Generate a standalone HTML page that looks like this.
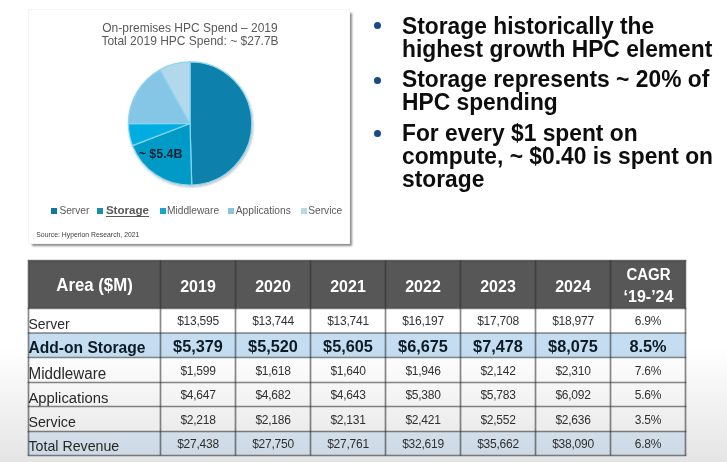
<!DOCTYPE html>
<html><head><meta charset="utf-8"><style>
html,body{margin:0;padding:0;background:#fff;}
body{width:727px;height:462px;overflow:hidden;position:relative;font-family:"Liberation Sans",sans-serif;}
#w{will-change:transform;position:absolute;left:0;top:0;width:727px;height:462px;background:#fff;}
.t{position:absolute;white-space:nowrap;}
#ov{position:absolute;left:0;top:0;width:727px;height:462px;background:linear-gradient(180deg,rgba(0,0,0,0) 0px,rgba(0,0,0,0) 348px,rgba(0,0,0,0.105) 462px);}
</style></head><body><div id="w">
<div style="position:absolute;left:29px;top:10px;width:320px;height:233px;background:#fff;box-shadow:0 0 0 1px #f5f5f5, 2.5px 2.5px 2px rgba(0,0,0,0.45);"></div>
<div class="t" style="left:-10.00px;width:400px;text-align:center;top:22.14px;font-size:12px;line-height:13.41px;font-weight:400;color:#595959;transform:scaleY(1.05);transform-origin:0 10.86px;">On-premises HPC Spend – 2019</div>
<div class="t" style="left:-10.00px;width:400px;text-align:center;top:35.24px;font-size:12px;line-height:13.41px;font-weight:400;color:#595959;transform:scaleY(1.05);transform-origin:0 10.86px;">Total 2019 HPC Spend: ~ $27.7B</div>
<svg style="position:absolute;left:0;top:0" width="727" height="462"><defs><filter id="ds" x="-20%" y="-20%" width="140%" height="140%"><feDropShadow dx="0.8" dy="1.3" stdDeviation="1" flood-color="#000" flood-opacity="0.28"/></filter></defs><g filter="url(#ds)"><path d="M190,123.5 L190.00,61.90 A61.6,61.6 0 0 1 191.75,185.08 Z" fill="#0881ab" stroke="#8ad5ef" stroke-width="1.2"/><path d="M190,123.5 L191.75,185.08 A61.6,61.6 0 0 1 132.51,145.63 Z" fill="#039ac7" stroke="#8ad5ef" stroke-width="1.2"/><path d="M190,123.5 L132.51,145.63 A61.6,61.6 0 0 1 128.40,123.58 Z" fill="#02ade0" stroke="#8ad5ef" stroke-width="1.2"/><path d="M190,123.5 L128.40,123.58 A61.6,61.6 0 0 1 160.04,69.68 Z" fill="#85c5e5" stroke="#8ad5ef" stroke-width="1.2"/><path d="M190,123.5 L160.04,69.68 A61.6,61.6 0 0 1 190.00,61.90 Z" fill="#b4d8eb" stroke="#8ad5ef" stroke-width="1.2"/></g></svg>
<div class="t" style="left:138.70px;top:147.87px;font-size:12.4px;line-height:13.85px;font-weight:700;color:#0b2233;transform:scaleY(1.05);transform-origin:0 11.23px;">~ $5.4B</div>
<div style="position:absolute;left:50.5px;top:207.8px;width:6px;height:6px;background:#10789b;"></div>
<div class="t" style="left:59.40px;top:204.97px;font-size:10.2px;line-height:11.40px;font-weight:400;color:#595959;">Server</div>
<div style="position:absolute;left:97.2px;top:207.8px;width:6px;height:6px;background:#1a8db0;"></div>
<div style="position:absolute;left:159.6px;top:207.8px;width:6px;height:6px;background:#1aa3cf;"></div>
<div class="t" style="left:167.00px;top:204.97px;font-size:10.2px;line-height:11.40px;font-weight:400;color:#595959;">Middleware</div>
<div style="position:absolute;left:227.9px;top:207.8px;width:6px;height:6px;background:#8cc3dd;"></div>
<div class="t" style="left:235.80px;top:204.97px;font-size:10.2px;line-height:11.40px;font-weight:400;color:#595959;">Applications</div>
<div style="position:absolute;left:300.8px;top:207.8px;width:6px;height:6px;background:#b9d8e8;"></div>
<div class="t" style="left:308.20px;top:204.97px;font-size:10.2px;line-height:11.40px;font-weight:400;color:#595959;">Service</div>
<div class="t" style="left:105.90px;top:203.70px;font-size:11.6px;line-height:12.96px;font-weight:700;color:#595959;text-decoration:underline;text-underline-offset:1.5px;text-decoration-skip-ink:none;">Storage</div>
<div class="t" style="left:36.30px;top:230.80px;font-size:6.85px;line-height:7.65px;font-weight:400;color:#404040;">Source: Hyperion Research, 2021</div>
<div style="position:absolute;left:374.3px;top:22.00px;width:6.8px;height:7px;border-radius:50%;background:#184a84"></div>
<div class="t" style="left:402.00px;top:13.76px;font-size:22.8px;line-height:25.47px;font-weight:700;color:#0d0d0d;transform:scaleY(1.07);transform-origin:0 20.64px;">Storage historically the</div>
<div class="t" style="left:402.00px;top:36.76px;font-size:22.8px;line-height:25.47px;font-weight:700;color:#0d0d0d;transform:scaleY(1.07);transform-origin:0 20.64px;">highest growth HPC element</div>
<div style="position:absolute;left:374.3px;top:76.50px;width:6.8px;height:7px;border-radius:50%;background:#184a84"></div>
<div class="t" style="left:402.00px;top:67.36px;font-size:22.8px;line-height:25.47px;font-weight:700;color:#0d0d0d;transform:scaleY(1.07);transform-origin:0 20.64px;">Storage represents ~ 20% of</div>
<div class="t" style="left:402.00px;top:90.16px;font-size:22.8px;line-height:25.47px;font-weight:700;color:#0d0d0d;transform:scaleY(1.07);transform-origin:0 20.64px;">HPC spending</div>
<div style="position:absolute;left:374.3px;top:129.50px;width:6.8px;height:7px;border-radius:50%;background:#184a84"></div>
<div class="t" style="left:402.00px;top:120.96px;font-size:22.8px;line-height:25.47px;font-weight:700;color:#0d0d0d;transform:scaleY(1.07);transform-origin:0 20.64px;">For every $1 spent on</div>
<div class="t" style="left:402.00px;top:143.76px;font-size:22.8px;line-height:25.47px;font-weight:700;color:#0d0d0d;transform:scaleY(1.07);transform-origin:0 20.64px;">compute, ~ $0.40 is spent on</div>
<div class="t" style="left:402.00px;top:166.56px;font-size:22.8px;line-height:25.47px;font-weight:700;color:#0d0d0d;transform:scaleY(1.07);transform-origin:0 20.64px;">storage</div>
<svg style="position:absolute;left:0;top:0" width="727" height="462"><rect x="28.5" y="260.5" width="657.0" height="48.0" fill="#575757"/><rect x="28.5" y="308.5" width="657.0" height="24.5" fill="#ffffff"/><rect x="28.5" y="333" width="657.0" height="24.5" fill="#c4ddf1"/><rect x="28.5" y="357.5" width="657.0" height="25.0" fill="#ffffff"/><rect x="28.5" y="382.5" width="657.0" height="24.0" fill="#ffffff"/><rect x="28.5" y="406.5" width="657.0" height="25.0" fill="#ffffff"/><rect x="28.5" y="431.5" width="657.0" height="24.0" fill="#e4f2fe"/><line x1="27.65" y1="260.5" x2="686.35" y2="260.5" stroke="rgb(45,45,45)" stroke-opacity="0.56" stroke-width="1.7"/><line x1="27.65" y1="308.5" x2="686.35" y2="308.5" stroke="rgb(45,45,45)" stroke-opacity="0.56" stroke-width="1.7"/><line x1="27.65" y1="333" x2="686.35" y2="333" stroke="rgb(45,45,45)" stroke-opacity="0.56" stroke-width="1.7"/><line x1="27.65" y1="357.5" x2="686.35" y2="357.5" stroke="rgb(45,45,45)" stroke-opacity="0.56" stroke-width="1.7"/><line x1="27.65" y1="382.5" x2="686.35" y2="382.5" stroke="rgb(45,45,45)" stroke-opacity="0.56" stroke-width="1.7"/><line x1="27.65" y1="406.5" x2="686.35" y2="406.5" stroke="rgb(45,45,45)" stroke-opacity="0.56" stroke-width="1.7"/><line x1="27.65" y1="431.5" x2="686.35" y2="431.5" stroke="rgb(45,45,45)" stroke-opacity="0.56" stroke-width="1.7"/><line x1="27.65" y1="455.5" x2="686.35" y2="455.5" stroke="rgb(45,45,45)" stroke-opacity="0.56" stroke-width="1.7"/><line x1="28.5" y1="260.5" x2="28.5" y2="455.5" stroke="rgb(45,45,45)" stroke-opacity="0.56" stroke-width="1.7"/><line x1="160.5" y1="260.5" x2="160.5" y2="455.5" stroke="rgb(45,45,45)" stroke-opacity="0.56" stroke-width="1.7"/><line x1="235.5" y1="260.5" x2="235.5" y2="455.5" stroke="rgb(45,45,45)" stroke-opacity="0.56" stroke-width="1.7"/><line x1="310.5" y1="260.5" x2="310.5" y2="455.5" stroke="rgb(45,45,45)" stroke-opacity="0.56" stroke-width="1.7"/><line x1="385.5" y1="260.5" x2="385.5" y2="455.5" stroke="rgb(45,45,45)" stroke-opacity="0.56" stroke-width="1.7"/><line x1="460.5" y1="260.5" x2="460.5" y2="455.5" stroke="rgb(45,45,45)" stroke-opacity="0.56" stroke-width="1.7"/><line x1="535.5" y1="260.5" x2="535.5" y2="455.5" stroke="rgb(45,45,45)" stroke-opacity="0.56" stroke-width="1.7"/><line x1="610.5" y1="260.5" x2="610.5" y2="455.5" stroke="rgb(45,45,45)" stroke-opacity="0.56" stroke-width="1.7"/><line x1="685.5" y1="260.5" x2="685.5" y2="455.5" stroke="rgb(45,45,45)" stroke-opacity="0.56" stroke-width="1.7"/></svg>
<div class="t" style="left:-105.50px;width:400px;text-align:center;top:277.39px;font-size:16.8px;line-height:18.77px;font-weight:700;color:#fff;transform:scaleY(1.06);transform-origin:0 15.21px;">Area ($M)</div>
<div class="t" style="left:-2.00px;width:400px;text-align:center;top:278.32px;font-size:16px;line-height:17.88px;font-weight:700;color:#fff;transform:scaleY(1.08);transform-origin:0 14.48px;">2019</div>
<div class="t" style="left:73.00px;width:400px;text-align:center;top:278.32px;font-size:16px;line-height:17.88px;font-weight:700;color:#fff;transform:scaleY(1.08);transform-origin:0 14.48px;">2020</div>
<div class="t" style="left:148.00px;width:400px;text-align:center;top:278.32px;font-size:16px;line-height:17.88px;font-weight:700;color:#fff;transform:scaleY(1.08);transform-origin:0 14.48px;">2021</div>
<div class="t" style="left:223.00px;width:400px;text-align:center;top:278.32px;font-size:16px;line-height:17.88px;font-weight:700;color:#fff;transform:scaleY(1.08);transform-origin:0 14.48px;">2022</div>
<div class="t" style="left:298.00px;width:400px;text-align:center;top:278.32px;font-size:16px;line-height:17.88px;font-weight:700;color:#fff;transform:scaleY(1.08);transform-origin:0 14.48px;">2023</div>
<div class="t" style="left:373.00px;width:400px;text-align:center;top:278.32px;font-size:16px;line-height:17.88px;font-weight:700;color:#fff;transform:scaleY(1.08);transform-origin:0 14.48px;">2024</div>
<div class="t" style="left:448.50px;width:400px;text-align:center;top:266.82px;font-size:15px;line-height:16.76px;font-weight:700;color:#fff;transform:scaleY(1.09);transform-origin:0 13.58px;">CAGR</div>
<div class="t" style="left:448.50px;width:400px;text-align:center;top:287.72px;font-size:16px;line-height:17.88px;font-weight:700;color:#fff;transform:scaleY(1.05);transform-origin:0 14.48px;">‘19-’24</div>
<div class="t" style="left:28.50px;top:317.03px;font-size:14.0px;line-height:15.64px;font-weight:400;color:#2b2b2b;transform:scaleY(1.04);transform-origin:0 12.67px;">Server</div>
<div class="t" style="left:-2.00px;width:400px;text-align:center;top:315.39px;font-size:12px;line-height:13.41px;font-weight:400;color:#333;letter-spacing:-0.25px;">$13,595</div>
<div class="t" style="left:73.00px;width:400px;text-align:center;top:315.39px;font-size:12px;line-height:13.41px;font-weight:400;color:#333;letter-spacing:-0.25px;">$13,744</div>
<div class="t" style="left:148.00px;width:400px;text-align:center;top:315.39px;font-size:12px;line-height:13.41px;font-weight:400;color:#333;letter-spacing:-0.25px;">$13,741</div>
<div class="t" style="left:223.00px;width:400px;text-align:center;top:315.39px;font-size:12px;line-height:13.41px;font-weight:400;color:#333;letter-spacing:-0.25px;">$16,197</div>
<div class="t" style="left:298.00px;width:400px;text-align:center;top:315.39px;font-size:12px;line-height:13.41px;font-weight:400;color:#333;letter-spacing:-0.25px;">$17,708</div>
<div class="t" style="left:373.00px;width:400px;text-align:center;top:315.39px;font-size:12px;line-height:13.41px;font-weight:400;color:#333;letter-spacing:-0.25px;">$18,977</div>
<div class="t" style="left:448.00px;width:400px;text-align:center;top:315.39px;font-size:12px;line-height:13.41px;font-weight:400;color:#333;letter-spacing:-0.25px;">6.9%</div>
<div class="t" style="left:28.50px;top:339.18px;font-size:15.6px;line-height:17.43px;font-weight:700;color:#0d1b26;">Add-on Storage</div>
<div class="t" style="left:-2.00px;width:400px;text-align:center;top:336.99px;font-size:16.3px;line-height:18.21px;font-weight:700;color:#0d1b26;">$5,379</div>
<div class="t" style="left:73.00px;width:400px;text-align:center;top:336.99px;font-size:16.3px;line-height:18.21px;font-weight:700;color:#0d1b26;">$5,520</div>
<div class="t" style="left:148.00px;width:400px;text-align:center;top:336.99px;font-size:16.3px;line-height:18.21px;font-weight:700;color:#0d1b26;">$5,605</div>
<div class="t" style="left:223.00px;width:400px;text-align:center;top:336.99px;font-size:16.3px;line-height:18.21px;font-weight:700;color:#0d1b26;">$6,675</div>
<div class="t" style="left:298.00px;width:400px;text-align:center;top:336.99px;font-size:16.3px;line-height:18.21px;font-weight:700;color:#0d1b26;">$7,478</div>
<div class="t" style="left:373.00px;width:400px;text-align:center;top:336.99px;font-size:16.3px;line-height:18.21px;font-weight:700;color:#0d1b26;">$8,075</div>
<div class="t" style="left:448.00px;width:400px;text-align:center;top:336.99px;font-size:16.3px;line-height:18.21px;font-weight:700;color:#0d1b26;">8.5%</div>
<div class="t" style="left:28.50px;top:365.44px;font-size:15.2px;line-height:16.98px;font-weight:400;color:#2b2b2b;transform:scaleY(1.04);transform-origin:0 13.76px;">Middleware</div>
<div class="t" style="left:-2.00px;width:400px;text-align:center;top:364.64px;font-size:12px;line-height:13.41px;font-weight:400;color:#333;letter-spacing:-0.25px;">$1,599</div>
<div class="t" style="left:73.00px;width:400px;text-align:center;top:364.64px;font-size:12px;line-height:13.41px;font-weight:400;color:#333;letter-spacing:-0.25px;">$1,618</div>
<div class="t" style="left:148.00px;width:400px;text-align:center;top:364.64px;font-size:12px;line-height:13.41px;font-weight:400;color:#333;letter-spacing:-0.25px;">$1,640</div>
<div class="t" style="left:223.00px;width:400px;text-align:center;top:364.64px;font-size:12px;line-height:13.41px;font-weight:400;color:#333;letter-spacing:-0.25px;">$1,946</div>
<div class="t" style="left:298.00px;width:400px;text-align:center;top:364.64px;font-size:12px;line-height:13.41px;font-weight:400;color:#333;letter-spacing:-0.25px;">$2,142</div>
<div class="t" style="left:373.00px;width:400px;text-align:center;top:364.64px;font-size:12px;line-height:13.41px;font-weight:400;color:#333;letter-spacing:-0.25px;">$2,310</div>
<div class="t" style="left:448.00px;width:400px;text-align:center;top:364.64px;font-size:12px;line-height:13.41px;font-weight:400;color:#333;letter-spacing:-0.25px;">7.6%</div>
<div class="t" style="left:28.50px;top:389.80px;font-size:14.8px;line-height:16.53px;font-weight:400;color:#2b2b2b;transform:scaleY(1.04);transform-origin:0 13.40px;">Applications</div>
<div class="t" style="left:-2.00px;width:400px;text-align:center;top:389.14px;font-size:12px;line-height:13.41px;font-weight:400;color:#333;letter-spacing:-0.25px;">$4,647</div>
<div class="t" style="left:73.00px;width:400px;text-align:center;top:389.14px;font-size:12px;line-height:13.41px;font-weight:400;color:#333;letter-spacing:-0.25px;">$4,682</div>
<div class="t" style="left:148.00px;width:400px;text-align:center;top:389.14px;font-size:12px;line-height:13.41px;font-weight:400;color:#333;letter-spacing:-0.25px;">$4,643</div>
<div class="t" style="left:223.00px;width:400px;text-align:center;top:389.14px;font-size:12px;line-height:13.41px;font-weight:400;color:#333;letter-spacing:-0.25px;">$5,380</div>
<div class="t" style="left:298.00px;width:400px;text-align:center;top:389.14px;font-size:12px;line-height:13.41px;font-weight:400;color:#333;letter-spacing:-0.25px;">$5,783</div>
<div class="t" style="left:373.00px;width:400px;text-align:center;top:389.14px;font-size:12px;line-height:13.41px;font-weight:400;color:#333;letter-spacing:-0.25px;">$6,092</div>
<div class="t" style="left:448.00px;width:400px;text-align:center;top:389.14px;font-size:12px;line-height:13.41px;font-weight:400;color:#333;letter-spacing:-0.25px;">5.6%</div>
<div class="t" style="left:28.50px;top:415.34px;font-size:14.2px;line-height:15.86px;font-weight:400;color:#2b2b2b;transform:scaleY(1.04);transform-origin:0 12.86px;">Service</div>
<div class="t" style="left:-2.00px;width:400px;text-align:center;top:413.64px;font-size:12px;line-height:13.41px;font-weight:400;color:#333;letter-spacing:-0.25px;">$2,218</div>
<div class="t" style="left:73.00px;width:400px;text-align:center;top:413.64px;font-size:12px;line-height:13.41px;font-weight:400;color:#333;letter-spacing:-0.25px;">$2,186</div>
<div class="t" style="left:148.00px;width:400px;text-align:center;top:413.64px;font-size:12px;line-height:13.41px;font-weight:400;color:#333;letter-spacing:-0.25px;">$2,131</div>
<div class="t" style="left:223.00px;width:400px;text-align:center;top:413.64px;font-size:12px;line-height:13.41px;font-weight:400;color:#333;letter-spacing:-0.25px;">$2,421</div>
<div class="t" style="left:298.00px;width:400px;text-align:center;top:413.64px;font-size:12px;line-height:13.41px;font-weight:400;color:#333;letter-spacing:-0.25px;">$2,552</div>
<div class="t" style="left:373.00px;width:400px;text-align:center;top:413.64px;font-size:12px;line-height:13.41px;font-weight:400;color:#333;letter-spacing:-0.25px;">$2,636</div>
<div class="t" style="left:448.00px;width:400px;text-align:center;top:413.64px;font-size:12px;line-height:13.41px;font-weight:400;color:#333;letter-spacing:-0.25px;">3.5%</div>
<div class="t" style="left:28.50px;top:439.34px;font-size:14.2px;line-height:15.86px;font-weight:400;color:#2b2b2b;transform:scaleY(1.04);transform-origin:0 12.86px;">Total Revenue</div>
<div class="t" style="left:-2.00px;width:400px;text-align:center;top:438.14px;font-size:12px;line-height:13.41px;font-weight:400;color:#333;letter-spacing:-0.25px;">$27,438</div>
<div class="t" style="left:73.00px;width:400px;text-align:center;top:438.14px;font-size:12px;line-height:13.41px;font-weight:400;color:#333;letter-spacing:-0.25px;">$27,750</div>
<div class="t" style="left:148.00px;width:400px;text-align:center;top:438.14px;font-size:12px;line-height:13.41px;font-weight:400;color:#333;letter-spacing:-0.25px;">$27,761</div>
<div class="t" style="left:223.00px;width:400px;text-align:center;top:438.14px;font-size:12px;line-height:13.41px;font-weight:400;color:#333;letter-spacing:-0.25px;">$32,619</div>
<div class="t" style="left:298.00px;width:400px;text-align:center;top:438.14px;font-size:12px;line-height:13.41px;font-weight:400;color:#333;letter-spacing:-0.25px;">$35,662</div>
<div class="t" style="left:373.00px;width:400px;text-align:center;top:438.14px;font-size:12px;line-height:13.41px;font-weight:400;color:#333;letter-spacing:-0.25px;">$38,090</div>
<div class="t" style="left:448.00px;width:400px;text-align:center;top:438.14px;font-size:12px;line-height:13.41px;font-weight:400;color:#333;letter-spacing:-0.25px;">6.8%</div>
<div id="ov"></div>
</div></body></html>
